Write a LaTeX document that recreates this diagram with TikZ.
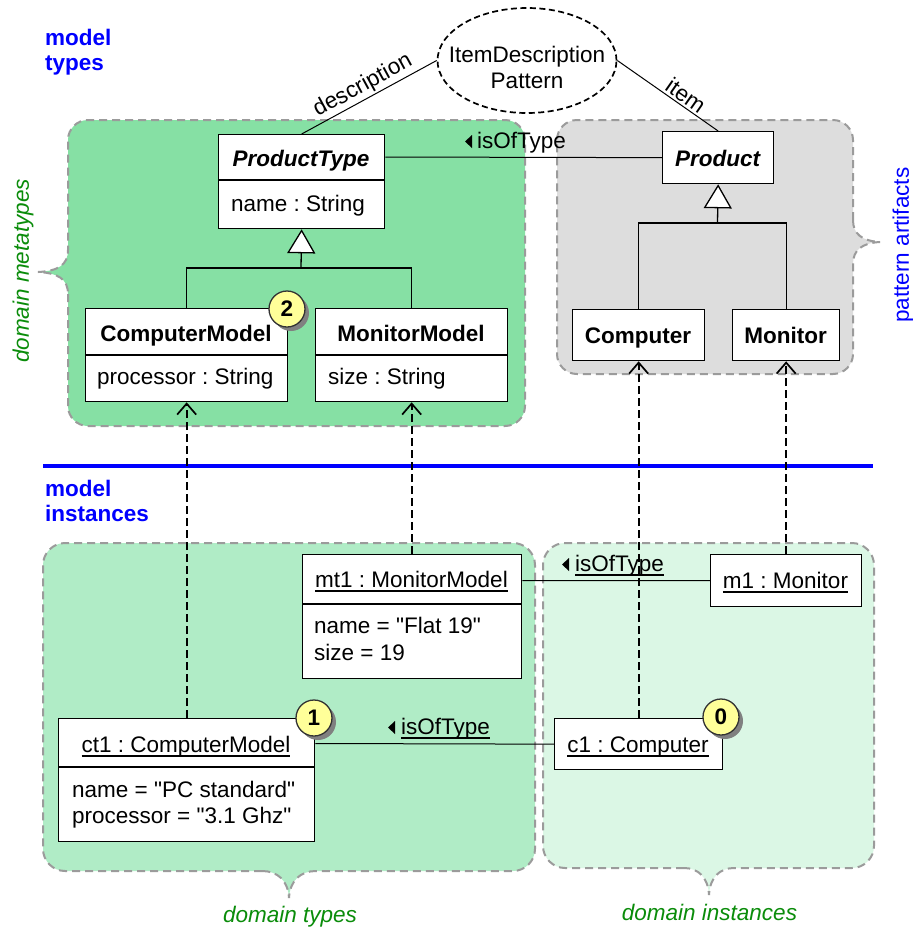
\documentclass[tikz,border=0pt]{standalone}
\usepackage{fontspec}
\setmainfont{Liberation Sans}[Ligatures=TeXOff]
\usetikzlibrary{arrows.meta,shapes.geometric,shadows}

\definecolor{metagreen}{RGB}{134,224,164}
\definecolor{typegreen}{RGB}{176,236,198}
\definecolor{instgreen}{RGB}{219,247,229}
\definecolor{patterngray}{RGB}{221,221,221}
\definecolor{regionline}{RGB}{155,155,155}
\definecolor{lblgreen}{RGB}{10,140,10}
\definecolor{badgeyellow}{RGB}{255,255,153}

\newcommand\fsz{\fontsize{22.5}{26}\selectfont\frenchspacing}
% underline with a visible rule thickness
\newcommand\undl[1]{\setbox0\hbox{#1}\rlap{\rule[-4.8pt]{\wd0}{1.8pt}}\box0}

\tikzset{
  region/.style={draw=regionline, line width=2pt, dash pattern=on 8pt off 5pt},
  umlbox/.style={draw=black, fill=white, line width=1.3pt, anchor=north west, inner sep=0pt},
  txt/.style={font=\fsz, inner sep=0pt, anchor=base},
  attr/.style={font=\fsz, inner sep=0pt, anchor=base west},
  title/.style={font=\fsz\bfseries, inner sep=0pt, anchor=base},
  abstitle/.style={font=\fsz\bfseries\itshape, inner sep=0pt, anchor=base},
  heading/.style={font=\fsz\bfseries, text=blue, inner sep=0pt, anchor=base west},
  sidelabel/.style={font=\fsz\itshape, text=lblgreen, inner sep=0pt},
  assoc/.style={draw=black, line width=1pt},
  sep/.style={draw=black, line width=1.3pt},
  genline/.style={draw=black, line width=1.3pt},
  gentip/.style={-{Triangle[length=24pt, width=28pt, fill=white, line width=1.3pt]}},
  instof/.style={draw=black, line width=1.7pt, dash pattern=on 8pt off 4pt,
    -{Straight Barb[length=11pt, width=19pt, line width=1.7pt]}},
  rolelabel/.style={font=\fsz, inner sep=2pt, sloped, above},
  badge/.style={circle, minimum size=36pt, inner sep=0pt, fill=badgeyellow,
    draw=black!80, line width=1.3pt, font=\fsz\bfseries,
    drop shadow={shadow xshift=4pt, shadow yshift=-4pt, fill=black!50, opacity=1}},
}

\begin{document}
\begin{tikzpicture}[x=1pt, y=-1pt]
\useasboundingbox[fill=white] (0,0) rectangle (913,930);

% ---------- regions ----------
\path[region, fill=metagreen]
  (68,294) -- (68,406) .. controls (68,417) and (77,426) .. (88,426)
  -- (505,426) .. controls (516,426) and (525,417) .. (525,406)
  -- (525,140) .. controls (525,129) and (516,120) .. (505,120)
  -- (88,120) .. controls (77,120) and (68,129) .. (68,140)
  -- (68,250) .. controls (68,265) and (58,271) .. (38,272)
  .. controls (58,273) and (68,279) .. (68,294) -- cycle;

\path[region, fill=patterngray]
  (853,220) -- (853,140) .. controls (853,129) and (844,120) .. (833,120)
  -- (577,120) .. controls (566,120) and (557,129) .. (557,140)
  -- (557,354) .. controls (557,365) and (566,374) .. (577,374)
  -- (833,374) .. controls (844,374) and (853,365) .. (853,354)
  -- (853,264) .. controls (853,250) and (862,243) .. (880,242)
  .. controls (862,241) and (853,234) .. (853,220) -- cycle;

\path[region, fill=typegreen]
  (262,871) -- (65,871) .. controls (53,871) and (43,861) .. (43,849)
  -- (43,565) .. controls (43,553) and (53,543) .. (65,543)
  -- (513,543) .. controls (525,543) and (535,553) .. (535,565)
  -- (535,849) .. controls (535,861) and (525,871) .. (513,871)
  -- (316,871) .. controls (301,871) and (290,880) .. (289,898)
  .. controls (288,880) and (277,871) .. (262,871) -- cycle;

\path[region, fill=instgreen]
  (684,868) -- (565,868) .. controls (553,868) and (543,858) .. (543,846)
  -- (543,565) .. controls (543,553) and (553,543) .. (565,543)
  -- (852,543) .. controls (864,543) and (874,553) .. (874,565)
  -- (874,846) .. controls (874,858) and (864,868) .. (852,868)
  -- (734,868) .. controls (720,868) and (710,877) .. (709,895)
  .. controls (708,877) and (698,868) .. (684,868) -- cycle;

% ---------- region labels ----------
\node[heading] (hMT1) at (45,45) {model};
\node[heading] (hMT2) at (45,70) {types};
\node[heading] (hMI1) at (45,496) {model};
\node[heading] (hMI2) at (45,521) {instances};
\node[sidelabel, rotate=90] (lDMT) at (23,271) {domain metatypes};
\node[sidelabel, rotate=90, font=\fsz, text=blue] (lPA) at (903,245) {pattern artifacts};
\node[sidelabel, anchor=base] (lDT) at (290,922) {domain types};
\node[sidelabel, anchor=base] (lDI) at (709.5,920) {domain instances};

% ---------- divider ----------
\coordinate (divL) at (43,466);
\coordinate (divR) at (873,466);
\draw[blue, line width=4pt] (divL) -- (divR);

% ---------- pattern ----------
\node[ellipse, draw=black, line width=1.7pt, dash pattern=on 6pt off 3.5pt,
      minimum width=179pt, minimum height=105pt, inner sep=0pt] (IDP) at (527,60.5) {};
\node[txt] (IDPa) at (527,62) {ItemDescription};
\node[txt] (IDPb) at (527,88) {Pattern};

% ---------- metatypes ----------
\node[umlbox, minimum width=166pt, minimum height=94pt] (PT) at (218,134) {};
\draw[sep] ([yshift=-46pt]PT.north west) -- ([yshift=-46pt]PT.north east);
\node[abstitle] (PTt) at (301,166) {ProductType};
\node[attr] (PTa) at (231,211) {name : String};

\node[umlbox, minimum width=202pt, minimum height=93pt] (CM) at (85,308) {};
\draw[sep] ([yshift=-47pt]CM.north west) -- ([yshift=-47pt]CM.north east);
\node[title] (CMt) at (186,341) {ComputerModel};
\node[attr] (CMa) at (97,384) {processor : String};

\node[umlbox, minimum width=192pt, minimum height=93pt] (MM) at (315,308) {};
\draw[sep] ([yshift=-47pt]MM.north west) -- ([yshift=-47pt]MM.north east);
\node[title] (MMt) at (411,341) {MonitorModel};
\node[attr] (MMa) at (328,384) {size : String};

% ---------- pattern artifacts ----------
\node[umlbox, minimum width=111pt, minimum height=52pt] (PR) at (662,131) {};
\node[abstitle] (PRt) at (717.5,166) {Product};
\node[umlbox, minimum width=132pt, minimum height=51pt] (CO) at (572,309) {};
\node[title] (COt) at (638,343) {Computer};
\node[umlbox, minimum width=107pt, minimum height=51pt] (MO) at (732,309) {};
\node[title] (MOt) at (785.5,343) {Monitor};

% ---------- instances ----------
\node[umlbox, minimum width=219pt, minimum height=124pt] (mt1) at (302,554) {};
\draw[sep] ([yshift=-50pt]mt1.north west) -- ([yshift=-50pt]mt1.north east);
\node[txt] (mt1t) at (411.5,587) {\undl{mt1 : MonitorModel}};
\node[attr] (mt1a) at (314,633) {name = "Flat 19"};
\node[attr] (mt1b) at (314,660) {size = 19};

\node[umlbox, minimum width=151pt, minimum height=52pt] (m1) at (710,554) {};
\node[txt] (m1t) at (785.5,588) {\undl{m1 : Monitor}};

\node[umlbox, minimum width=256pt, minimum height=123pt] (ct1) at (58,718) {};
\draw[sep] ([yshift=-49pt]ct1.north west) -- ([yshift=-49pt]ct1.north east);
\node[txt] (ct1t) at (186,752) {\undl{ct1 : ComputerModel}};
\node[attr] (ct1a) at (72,797) {name = "PC standard"};
\node[attr] (ct1b) at (72,823) {processor = "3.1 Ghz"};

\node[umlbox, minimum width=168pt, minimum height=51pt] (c1) at (554,718) {};
\node[txt] (c1t) at (638,752) {\undl{c1 : Computer}};

% ---------- pattern roles ----------
\draw[assoc] (IDP.west) -- node[rolelabel] (rDesc) {description} (PT.north);
\draw[assoc] (IDP.east) -- node[rolelabel, pos=0.62] (rItem) {item} (PR.north);

% ---------- generalizations ----------
\coordinate (gPT) at (301,268);
\draw[genline] (CM.north) |- (gPT);
\draw[genline] (MM.north) |- (gPT);
\draw[genline, gentip] (gPT) -- (PT.south);
\coordinate (gPR) at (717.5,223);
\draw[genline] (CO.north) |- (gPR);
\draw[genline] (MO.north) |- (gPR);
\draw[genline, gentip] (gPR) -- (PR.south);

% ---------- isOfType associations ----------
\draw[assoc] ([yshift=-23pt]PT.north east) -- (PR.west);
\node[attr] (iot1) at (477,148) {isOfType};
\fill ([xshift=-5pt]iot1.base west) -- ++(0,-13) -- ++(-7,6.5) -- cycle;

\draw[assoc] ([yshift=-26.5pt]mt1.north east) -- (m1.west);
\node[attr] (iot2) at (575,571) {\undl{isOfType}};
\fill ([xshift=-6pt]iot2.base west) -- ++(0,-13) -- ++(-7,6.5) -- cycle;

\draw[assoc] ([yshift=-25.5pt]ct1.north east) -- (c1.west);
\node[attr] (iot3) at (401,734) {\undl{isOfType}};
\fill ([xshift=-6pt]iot3.base west) -- ++(0,-13) -- ++(-7,6.5) -- cycle;

% ---------- instance-of dependencies ----------
\draw[instof] (ct1.north) -- (CM.south);
\draw[instof] (mt1.north -| MM.south) -- (MM.south);
\draw[instof] (c1.north) -- (CO.south);
\draw[instof] (m1.north) -- (MO.south);

% ---------- level badges ----------
\node[badge] (b2) at (287,309) {2};
\node[badge] (b1) at (314,718) {1};
\node[badge] (b0) at (721,717) {0};
\end{tikzpicture}
\end{document}
